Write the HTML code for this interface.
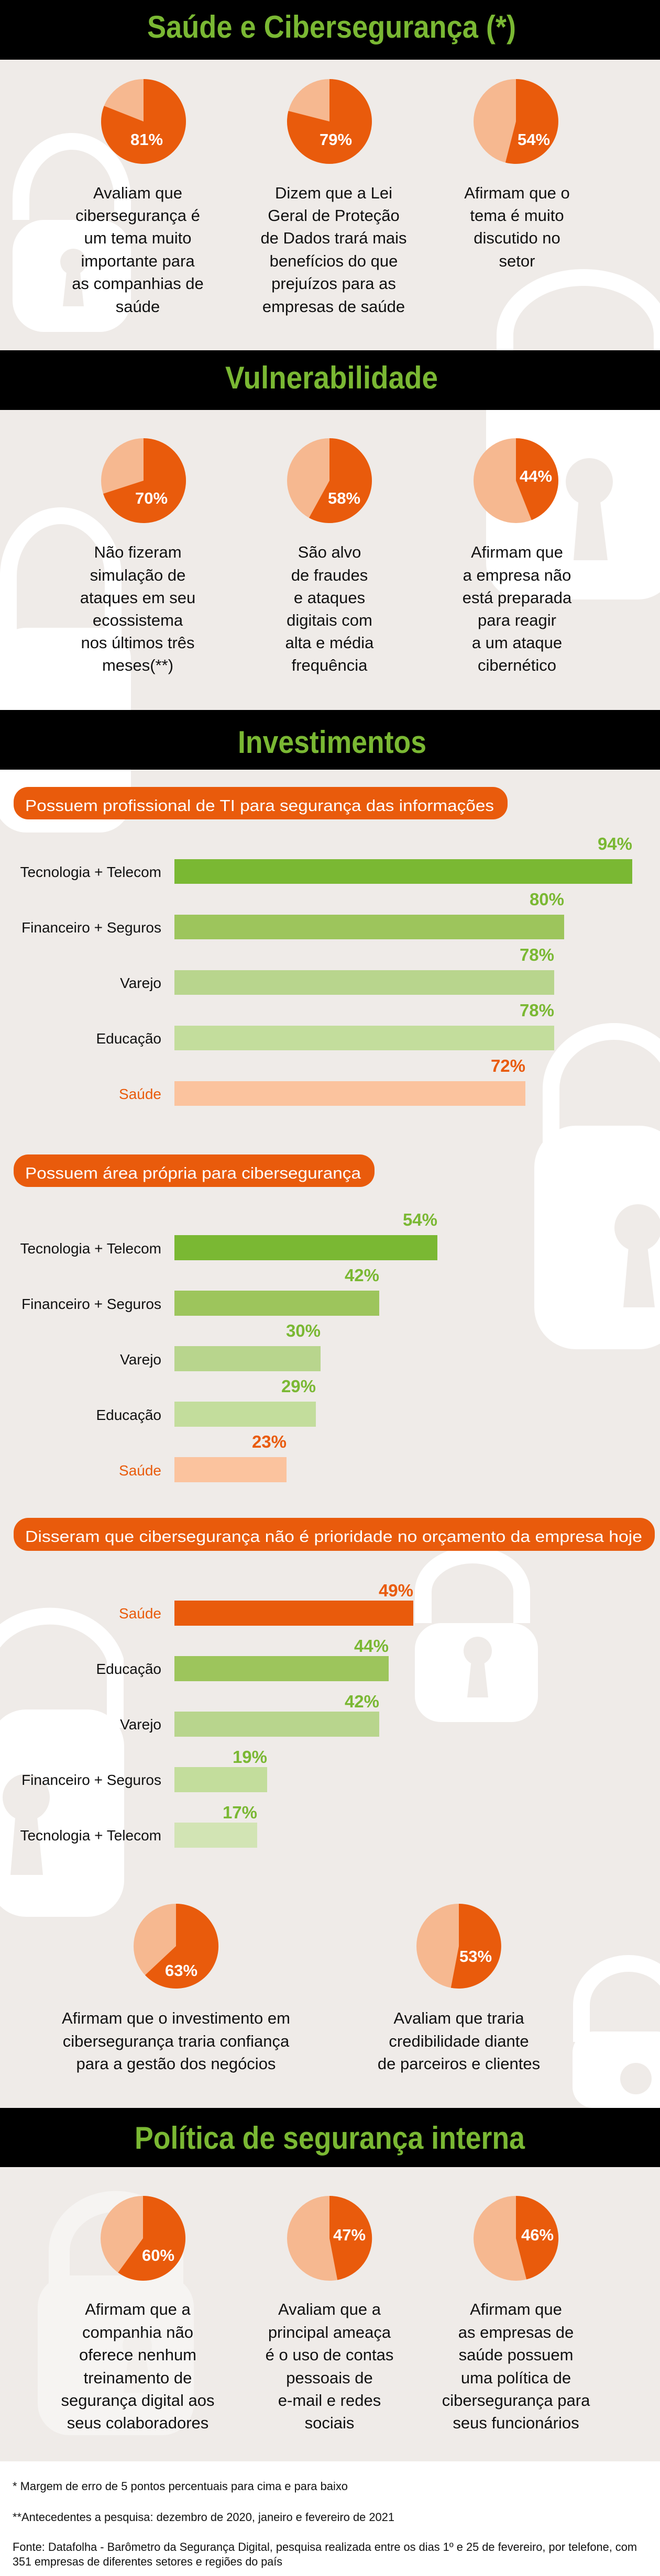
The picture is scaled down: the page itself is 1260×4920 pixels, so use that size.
<!DOCTYPE html>
<html><head><meta charset="utf-8"><style>
html,body{margin:0;padding:0;background:#efebe8;}
svg{display:block;}
text{font-family:"Liberation Sans",sans-serif;}
.t{font-weight:bold;fill:#7ab833;font-size:60px;}
.b{font-size:31px;fill:#111;text-anchor:middle;}
.p{font-size:31px;font-weight:bold;fill:#fff;text-anchor:middle;}
.pl{font-size:31px;fill:#fff;}
.c{font-size:28px;fill:#111;text-anchor:end;}
.v{font-size:33px;font-weight:bold;fill:#7ab833;text-anchor:end;}
.f{font-size:22px;fill:#111;}
</style></head><body>
<svg width="1260" height="4920" viewBox="0 0 1260 4920" xmlns="http://www.w3.org/2000/svg">
<rect width="1260" height="4920" fill="#efebe8"/>

<!-- background locks -->
<g fill="none" stroke="#fff" stroke-width="32">
 <path d="M40,420 V380 A97,110 0 0 1 234,380 V420"/>
 <path d="M964,700 V640 A150,110 0 0 1 1264,640 V700"/>
 <path d="M16,1240 V1100 A100,115 0 0 1 216,1100 V1240"/>
 <path d="M1052,2200 V2080 A120,110 0 0 1 1292,2080 V2200"/>
 <path d="M808,3100 V3040 A94,70 0 0 1 996,3040 V3100"/>
 <path d="M-30,3300 V3170 A130,115 0 0 1 220,3170 V3300"/>
 <path d="M1110,3900 V3830 A90,80 0 0 1 1290,3830 V3900"/>
</g>
<g fill="#fff">
 <rect x="24" y="420" width="226" height="214" rx="60"/>
 <rect x="928" y="700" width="360" height="445" rx="70"/>
 <rect x="-10" y="1199" width="260" height="391" rx="60"/>
 <rect x="1020" y="2150" width="280" height="427" rx="80"/>
 <rect x="792" y="3100" width="235" height="189" rx="50"/>
 <rect x="-20" y="3265" width="257" height="396" rx="70"/>
 <rect x="1093" y="3880" width="200" height="146" rx="40"/>
</g>
<g fill="#f6f4f2">
 <path d="M113,4420 V4300 A108,95 0 0 1 330,4300 V4420" fill="none" stroke="#f6f4f2" stroke-width="40"/>
 <rect x="72" y="4346" width="298" height="305" rx="60"/>
</g>
<g fill="#efebe8">
 <circle cx="140" cy="500" r="25"/><path d="M128,510 L152,510 L160,585 L120,585Z"/>
 <circle cx="1125" cy="920" r="45"/><path d="M1105,950 L1145,950 L1160,1070 L1095,1070Z"/>
 <circle cx="1218" cy="2345" r="45"/><path d="M1200,2380 L1236,2380 L1250,2497 L1190,2497Z"/>
 <circle cx="912" cy="3153" r="27"/><path d="M900,3170 L924,3170 L932,3242 L892,3242Z"/>
 <circle cx="50" cy="3433" r="45"/><path d="M30,3460 L70,3460 L82,3581 L20,3581Z"/>
 <circle cx="1214" cy="3970" r="30"/>
</g>
<g fill="#efebe8" opacity="0.5"><circle cx="262" cy="4480" r="28"/><path d="M246,4495 L278,4495 L288,4570 L236,4570Z"/></g>

<!-- headers -->
<rect x="0" y="0" width="1260" height="114" fill="#000"/>
<text class="t" x="281" y="72" textLength="704" lengthAdjust="spacingAndGlyphs">Saúde e Cibersegurança (*)</text>
<rect x="0" y="669" width="1260" height="114" fill="#000"/>
<text class="t" x="430" y="742" textLength="406" lengthAdjust="spacingAndGlyphs">Vulnerabilidade</text>
<rect x="0" y="1356" width="1260" height="114" fill="#000"/>
<text class="t" x="454" y="1438" textLength="360" lengthAdjust="spacingAndGlyphs">Investimentos</text>
<rect x="0" y="4026" width="1260" height="113" fill="#000"/>
<text class="t" x="257" y="4104" textLength="745" lengthAdjust="spacingAndGlyphs">Política de segurança interna</text>

<!-- section 1 pies -->
<g transform="translate(274,232)"><circle r="81" fill="#f6b890"/><path d="M0,0 L0,-81 A81,81 0 1 1 -75.3,-29.8Z" fill="#e95b0c"/><text class="p" x="6" y="45">81%</text></g>
<g transform="translate(629,232)"><circle r="81" fill="#f6b890"/><path d="M0,0 L0,-81 A81,81 0 1 1 -78.5,-20.1Z" fill="#e95b0c"/><text class="p" x="12" y="45">79%</text></g>
<g transform="translate(985,232)"><circle r="81" fill="#f6b890"/><path d="M0,0 L0,-81 A81,81 0 1 1 -20.1,78.5Z" fill="#e95b0c"/><text class="p" x="34" y="45">54%</text></g>
<text class="b" x="263" y="379">Avaliam que</text><text class="b" x="263" y="422">cibersegurança é</text><text class="b" x="263" y="465">um tema muito</text><text class="b" x="263" y="509">importante para</text><text class="b" x="263" y="552">as companhias de</text><text class="b" x="263" y="596">saúde</text>
<text class="b" x="637" y="379">Dizem que a Lei</text><text class="b" x="637" y="422">Geral de Proteção</text><text class="b" x="637" y="465">de Dados trará mais</text><text class="b" x="637" y="509">benefícios do que</text><text class="b" x="637" y="552">prejuízos para as</text><text class="b" x="637" y="596">empresas de saúde</text>
<text class="b" x="987" y="379">Afirmam que o</text><text class="b" x="987" y="422">tema é muito</text><text class="b" x="987" y="465">discutido no</text><text class="b" x="987" y="509">setor</text>

<!-- section 2 pies -->
<g transform="translate(274,918)"><circle r="81" fill="#f6b890"/><path d="M0,0 L0,-81 A81,81 0 1 1 -77,25Z" fill="#e95b0c"/><text class="p" x="15" y="44">70%</text></g>
<g transform="translate(629,918)"><circle r="81" fill="#f6b890"/><path d="M0,0 L0,-81 A81,81 0 1 1 -39,71Z" fill="#e95b0c"/><text class="p" x="28" y="44">58%</text></g>
<g transform="translate(985,918)"><circle r="81" fill="#f6b890"/><path d="M0,0 L0,-81 A81,81 0 0 1 29.8,75.3Z" fill="#e95b0c"/><text class="p" x="38" y="2">44%</text></g>
<text class="b" x="263" y="1065">Não fizeram</text><text class="b" x="263" y="1109">simulação de</text><text class="b" x="263" y="1152">ataques em seu</text><text class="b" x="263" y="1195">ecossistema</text><text class="b" x="263" y="1238">nos últimos três</text><text class="b" x="263" y="1281">meses(**)</text>
<text class="b" x="629" y="1065">São alvo</text><text class="b" x="629" y="1109">de fraudes</text><text class="b" x="629" y="1152">e ataques</text><text class="b" x="629" y="1195">digitais com</text><text class="b" x="629" y="1238">alta e média</text><text class="b" x="629" y="1281">frequência</text>
<text class="b" x="987" y="1065">Afirmam que</text><text class="b" x="987" y="1109">a empresa não</text><text class="b" x="987" y="1152">está preparada</text><text class="b" x="987" y="1195">para reagir</text><text class="b" x="987" y="1238">a um ataque</text><text class="b" x="987" y="1281">cibernético</text>

<!-- chart 1 -->
<rect x="26" y="1503" width="943" height="62" rx="28" fill="#e95b0c"/>
<text class="pl" x="48" y="1549" textLength="895" lengthAdjust="spacingAndGlyphs">Possuem profissional de TI para segurança das informações</text>
<rect x="333" y="1641" width="874" height="47" fill="#7ab833"/><text class="v" x="1207" y="1623">94%</text><text class="c" x="308" y="1675">Tecnologia + Telecom</text>
<rect x="333" y="1747" width="744" height="47" fill="#9dc55c"/><text class="v" x="1077" y="1729">80%</text><text class="c" x="308" y="1781">Financeiro + Seguros</text>
<rect x="333" y="1853" width="725" height="47" fill="#b8d58d"/><text class="v" x="1058" y="1835">78%</text><text class="c" x="308" y="1887">Varejo</text>
<rect x="333" y="1959" width="725" height="47" fill="#c3dd9c"/><text class="v" x="1058" y="1941">78%</text><text class="c" x="308" y="1993">Educação</text>
<rect x="333" y="2065" width="670" height="47" fill="#fbc39e"/><text class="v" x="1003" y="2047" fill="#e95b0c" style="fill:#e95b0c">72%</text><text class="c" x="308" y="2099" style="fill:#e95b0c">Saúde</text>

<!-- chart 2 -->
<rect x="26" y="2205" width="689" height="62" rx="28" fill="#e95b0c"/>
<text class="pl" x="48" y="2251" textLength="641" lengthAdjust="spacingAndGlyphs">Possuem área própria para cibersegurança</text>
<rect x="333" y="2359" width="502" height="48" fill="#7ab833"/><text class="v" x="835" y="2341">54%</text><text class="c" x="308" y="2394">Tecnologia + Telecom</text>
<rect x="333" y="2465" width="391" height="48" fill="#9dc55c"/><text class="v" x="724" y="2447">42%</text><text class="c" x="308" y="2500">Financeiro + Seguros</text>
<rect x="333" y="2571" width="279" height="48" fill="#b8d58d"/><text class="v" x="612" y="2553">30%</text><text class="c" x="308" y="2606">Varejo</text>
<rect x="333" y="2677" width="270" height="48" fill="#c3dd9c"/><text class="v" x="603" y="2659">29%</text><text class="c" x="308" y="2712">Educação</text>
<rect x="333" y="2783" width="214" height="48" fill="#fbc39e"/><text class="v" x="547" y="2765" style="fill:#e95b0c">23%</text><text class="c" x="308" y="2818" style="fill:#e95b0c">Saúde</text>

<!-- chart 3 -->
<rect x="26" y="2899" width="1224" height="63" rx="28" fill="#e95b0c"/>
<text class="pl" x="48" y="2945" textLength="1178" lengthAdjust="spacingAndGlyphs">Disseram que cibersegurança não é prioridade no orçamento da empresa hoje</text>
<rect x="333" y="3057" width="456" height="48" fill="#e95b0c"/><text class="v" x="789" y="3049" style="fill:#e95b0c">49%</text><text class="c" x="308" y="3091" style="fill:#e95b0c">Saúde</text>
<rect x="333" y="3163" width="409" height="48" fill="#9dc55c"/><text class="v" x="742" y="3155">44%</text><text class="c" x="308" y="3197">Educação</text>
<rect x="333" y="3269" width="391" height="48" fill="#b8d58d"/><text class="v" x="724" y="3261">42%</text><text class="c" x="308" y="3303">Varejo</text>
<rect x="333" y="3375" width="177" height="48" fill="#c3dd9c"/><text class="v" x="510" y="3367">19%</text><text class="c" x="308" y="3409">Financeiro + Seguros</text>
<rect x="333" y="3481" width="158" height="48" fill="#d2e4b4"/><text class="v" x="491" y="3473">17%</text><text class="c" x="308" y="3515">Tecnologia + Telecom</text>

<!-- section 3 pies -->
<g transform="translate(336,3717)"><circle r="81" fill="#f6b890"/><path d="M0,0 L0,-81 A81,81 0 1 1 -59,55.4Z" fill="#e95b0c"/><text class="p" x="10" y="57">63%</text></g>
<g transform="translate(876,3717)"><circle r="81" fill="#f6b890"/><path d="M0,0 L0,-81 A81,81 0 1 1 -15.2,79.6Z" fill="#e95b0c"/><text class="p" x="32" y="30">53%</text></g>
<text class="b" x="336" y="3865">Afirmam que o investimento em</text><text class="b" x="336" y="3909">cibersegurança traria confiança</text><text class="b" x="336" y="3952">para a gestão dos negócios</text>
<text class="b" x="876" y="3865">Avaliam que traria</text><text class="b" x="876" y="3909">credibilidade diante</text><text class="b" x="876" y="3952">de parceiros e clientes</text>

<!-- section 4 pies -->
<g transform="translate(273,4275)"><circle r="81" fill="#f6b890"/><path d="M0,0 L0,-81 A81,81 0 1 1 -47.6,65.5Z" fill="#e95b0c"/><text class="p" x="29" y="43">60%</text></g>
<g transform="translate(629,4275)"><circle r="81" fill="#f6b890"/><path d="M0,0 L0,-81 A81,81 0 0 1 15.2,79.6Z" fill="#e95b0c"/><text class="p" x="38" y="4">47%</text></g>
<g transform="translate(985,4275)"><circle r="81" fill="#f6b890"/><path d="M0,0 L0,-81 A81,81 0 0 1 20.1,78.5Z" fill="#e95b0c"/><text class="p" x="41" y="4">46%</text></g>
<text class="b" x="263" y="4421">Afirmam que a</text><text class="b" x="263" y="4465">companhia não</text><text class="b" x="263" y="4508">oferece nenhum</text><text class="b" x="263" y="4552">treinamento de</text><text class="b" x="263" y="4595">segurança digital aos</text><text class="b" x="263" y="4638">seus colaboradores</text>
<text class="b" x="629" y="4421">Avaliam que a</text><text class="b" x="629" y="4465">principal ameaça</text><text class="b" x="629" y="4508">é o uso de contas</text><text class="b" x="629" y="4552">pessoais de</text><text class="b" x="629" y="4595">e-mail e redes</text><text class="b" x="629" y="4638">sociais</text>
<text class="b" x="985" y="4421">Afirmam que</text><text class="b" x="985" y="4465">as empresas de</text><text class="b" x="985" y="4508">saúde possuem</text><text class="b" x="985" y="4552">uma política de</text><text class="b" x="985" y="4595">cibersegurança para</text><text class="b" x="985" y="4638">seus funcionários</text>

<!-- footer -->
<rect x="0" y="4701" width="1260" height="219" fill="#fff"/>
<text class="f" x="24" y="4756" textLength="640" lengthAdjust="spacingAndGlyphs">* Margem de erro de 5 pontos percentuais para cima e para baixo</text>
<text class="f" x="24" y="4815" textLength="729" lengthAdjust="spacingAndGlyphs">**Antecedentes a pesquisa: dezembro de 2020, janeiro e fevereiro de 2021</text>
<text class="f" x="24" y="4872" textLength="1192" lengthAdjust="spacingAndGlyphs">Fonte: Datafolha - Barômetro da Segurança Digital, pesquisa realizada entre os dias 1º e 25 de fevereiro, por telefone, com</text>
<text class="f" x="24" y="4900" textLength="515" lengthAdjust="spacingAndGlyphs">351 empresas de diferentes setores e regiões do país</text>
</svg>
</body></html>
